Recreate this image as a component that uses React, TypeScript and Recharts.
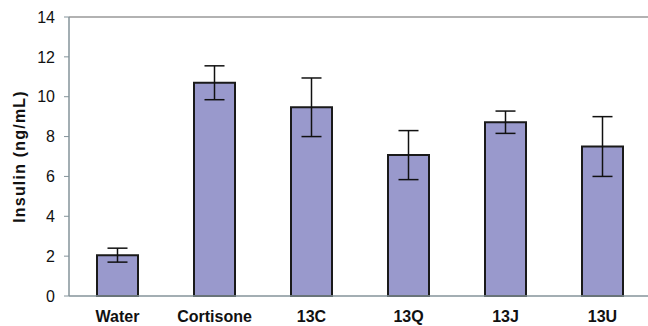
import { BarChart, Bar, XAxis, YAxis, ErrorBar, ReferenceLine } from 'recharts';

const groups = ['Water', 'Cortisone', '13C', '13Q', '13J', '13U'];
const insulin = [2.05, 10.7, 9.47, 7.07, 8.72, 7.5];
const insulinErr = [0.35, 0.85, 1.47, 1.23, 0.56, 1.5];
const yTicks = [0, 2, 4, 6, 8, 10, 12, 14];
const boundaryTicks = [0, 1, 2, 3, 4, 5, 6];

const data = groups.map((name, i) => ({
  name,
  insulin: insulin[i],
  err: insulinErr[i],
}));

const axisGray = '#84939a';
const font = '"Liberation Sans", Arial, sans-serif';

export default function App() {
  return (
    <div style={{ position: 'absolute', left: 0, top: 0 }}>
      <BarChart
        width={652}
        height={326}
        data={data}
        margin={{ top: 17, right: 1, bottom: 0, left: 0 }}
        barCategoryGap={28}
      >
        <XAxis
          xAxisId="bounds"
          type="number"
          domain={[0, 6]}
          ticks={boundaryTicks}
          tickFormatter={() => ''}
          axisLine={false}
          tickSize={4}
          tickLine={{ stroke: axisGray }}
          height={0}
        />
        <XAxis
          xAxisId="cat"
          dataKey="name"
          height={30}
          tickSize={0}
          tickMargin={15}
          axisLine={{ stroke: axisGray, strokeWidth: 1.5 }}
          tick={{ fill: '#111', fontSize: 16, fontWeight: 'bold', fontFamily: font }}
        />
        <YAxis
          width={69}
          domain={[0, 14]}
          ticks={yTicks}
          tickSize={5}
          tickMargin={9}
          axisLine={{ stroke: axisGray, strokeWidth: 1.5 }}
          tickLine={{ stroke: axisGray }}
          tick={{ fill: '#111', fontSize: 16, fontFamily: font }}
          label={{
            value: 'Insulin (ng/mL)',
            angle: -90,
            position: 'center',
            dx: -15,
            fill: '#111',
            fontSize: 16,
            fontWeight: 'bold',
            fontFamily: font,
            letterSpacing: 1.2,
          }}
        />
        <ReferenceLine xAxisId="cat" y={14} stroke="#999" strokeWidth={1.5} />
        <Bar
          xAxisId="cat"
          dataKey="insulin"
          fill="#9999cc"
          stroke="#1a1a1a"
          strokeWidth={2}
          isAnimationActive={false}
        >
          <ErrorBar dataKey="err" width={10} stroke="#111" strokeWidth={1.5} />
        </Bar>
      </BarChart>
    </div>
  );
}
